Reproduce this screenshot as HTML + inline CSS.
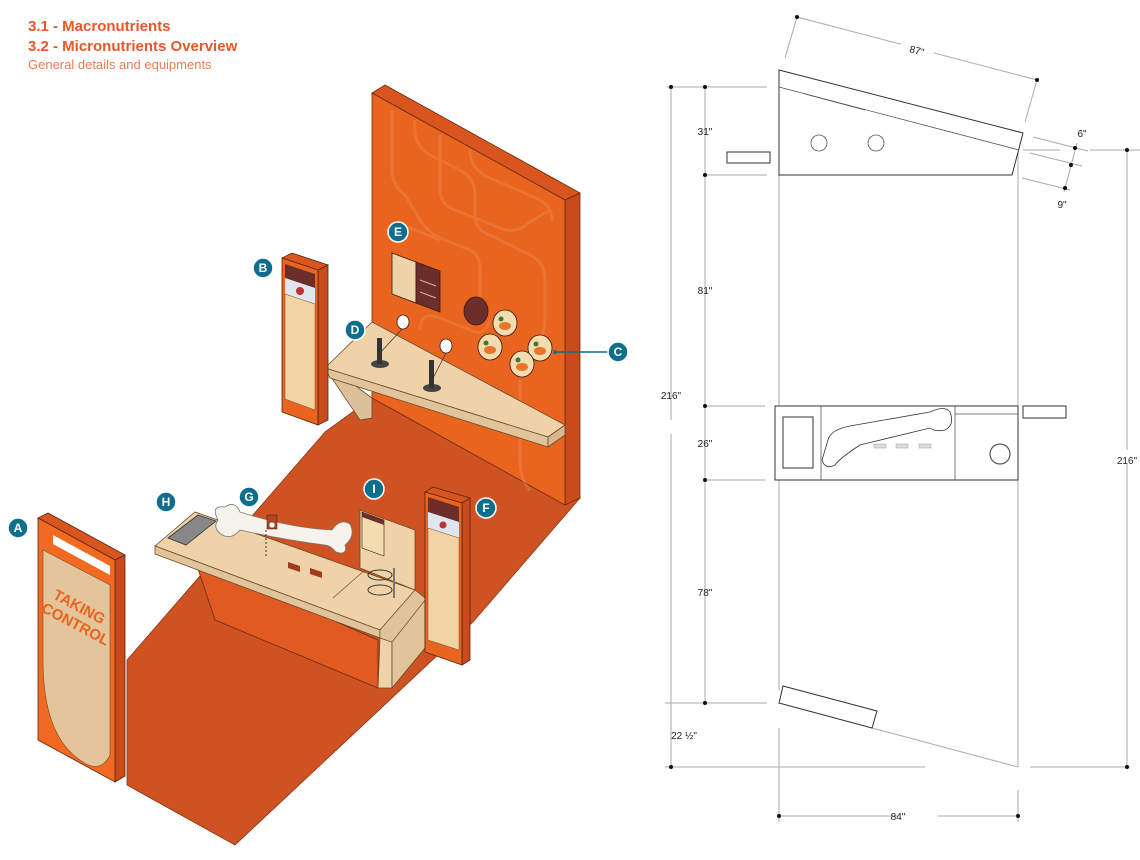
<!DOCTYPE html>
<html><head><meta charset="utf-8"><style>
html,body{margin:0;padding:0;background:#fff;}
svg{display:block;}
text{font-family:"Liberation Sans",sans-serif;}
</style></head><body>
<svg width="1140" height="860" viewBox="0 0 1140 860" xmlns="http://www.w3.org/2000/svg">
<text x="28" y="31" font-size="15" font-weight="bold" fill="#e8562a">3.1 - Macronutrients</text>
<text x="28" y="51" font-size="15" font-weight="bold" fill="#e8562a">3.2 - Micronutrients Overview</text>
<text x="28" y="69" font-size="13" fill="#ee7a55">General details and equipments</text>

<polygon points="325,432 372,398 580,498 473,622 235,845 127,785 127,660" fill="#cf5222" stroke="#8a3515" stroke-width="0.8"/>

<polygon points="385,85 580,193 565,200 372,93" fill="#d9551f" stroke="#6b2a10" stroke-width="0.8"/>
<polygon points="565,200 580,193 580,498 565,505" fill="#c94a1a" stroke="#6b2a10" stroke-width="0.8"/>
<polygon points="372,93 565,200 565,505 372,398" fill="#e8641f" stroke="#6b2a10" stroke-width="0.8"/>
<g fill="none" stroke="#f08a55" stroke-width="3" opacity="0.4">
<path d="M392,110 V170 Q392,185 405,195 L420,220 Q430,235 445,240 L470,250 Q480,255 480,270 V300"/>
<path d="M415,120 Q412,145 430,155 L460,170 Q475,178 475,195 V215 Q475,230 490,235 L530,255 Q545,262 545,280 V320 Q545,340 530,345"/>
<path d="M440,135 V190 Q440,205 455,210 L500,228 Q515,235 530,222 L550,210"/>
<path d="M470,150 Q470,170 490,178 L540,200 Q552,206 552,222"/>
<path d="M395,240 Q392,225 410,228 L440,240"/>
<path d="M420,330 Q420,310 440,318 L470,330 Q485,338 490,320"/>
<path d="M520,380 V460 Q520,480 530,490"/>
<path d="M445,400 Q450,380 470,390 L500,405"/>
</g>
<polygon points="392,253 416,262 416,303 392,294" fill="#efd2a8" stroke="#3a1a10" stroke-width="0.8"/>
<polygon points="416,262 440,271 440,312 416,303" fill="#6b2e2a" stroke="#3a1a10" stroke-width="0.8"/>
<line x1="420" y1="280" x2="436" y2="286" stroke="#d9b0a0" stroke-width="1"/>
<line x1="420" y1="292" x2="436" y2="298" stroke="#d9b0a0" stroke-width="1"/>
<ellipse cx="476" cy="311" rx="12" ry="14" fill="#6b2e2a" stroke="#3a1a10" stroke-width="0.8"/>
<g stroke="#3a1a10" stroke-width="0.8">
<ellipse cx="505" cy="323" rx="12" ry="13" fill="#f3ddb0"/>
<ellipse cx="490" cy="347" rx="12" ry="13" fill="#f3ddb0"/>
<ellipse cx="540" cy="348" rx="12" ry="13" fill="#f3ddb0"/>
<ellipse cx="522" cy="364" rx="12" ry="13" fill="#f3ddb0"/>
</g>
<g fill="#e8762a"><ellipse cx="505" cy="326" rx="6" ry="4"/><ellipse cx="490" cy="350" rx="6" ry="4"/><ellipse cx="540" cy="351" rx="6" ry="4"/><ellipse cx="522" cy="367" rx="6" ry="4"/></g>
<g fill="#3d7a2a"><circle cx="501" cy="319" r="2.5"/><circle cx="486" cy="343" r="2.5"/><circle cx="536" cy="344" r="2.5"/><circle cx="518" cy="360" r="2.5"/></g>
<ellipse cx="403" cy="322" rx="6" ry="7" fill="#fff" stroke="#3a1a10" stroke-width="0.8"/>
<ellipse cx="446" cy="346" rx="6" ry="7" fill="#fff" stroke="#3a1a10" stroke-width="0.8"/>

<polygon points="325,368 360,420 372,418 372,398 345,378" fill="#dcc09a" stroke="#6b4a2a" stroke-width="0.8"/>
<polygon points="325,368 372,322 565,425 548,437" fill="#efd2a8" stroke="#6b4a2a" stroke-width="0.8"/>
<polygon points="325,368 548,437 548,447 330,378" fill="#e2c49a" stroke="#6b4a2a" stroke-width="0.8"/>
<polygon points="548,437 565,425 565,435 548,447" fill="#d7b88e" stroke="#6b4a2a" stroke-width="0.8"/>
<g stroke="#3a3a3a" stroke-width="0.8"><line x1="380" y1="353" x2="402" y2="329"/><line x1="432" y1="380" x2="446" y2="353"/></g>
<ellipse cx="380" cy="364" rx="9" ry="4" fill="#444"/><rect x="377" y="338" width="5" height="26" fill="#333"/>
<ellipse cx="432" cy="388" rx="9" ry="4" fill="#444"/><rect x="429" y="360" width="5" height="28" fill="#333"/>

<polygon points="282,258 318,270 328,265 292,253" fill="#d9551f" stroke="#5a2510" stroke-width="0.8"/>
<polygon points="318,270 328,265 328,420 318,425" fill="#c94a1a" stroke="#5a2510" stroke-width="0.8"/>
<polygon points="282,258 318,270 318,425 282,412" fill="#e8641f" stroke="#5a2510" stroke-width="0.8"/>
<polygon points="285,264 315,274 315,288 285,278" fill="#6b2e2a"/>
<polygon points="285,278 315,288 315,304 285,294" fill="#dfe6f0"/>
<circle cx="300" cy="291" r="4" fill="#b33"/>
<polygon points="285,294 315,304 315,410 285,399" fill="#f1d3a6" stroke="#7a4a2a" stroke-width="0.5"/>

<polygon points="195,560 215,620 378,688 378,640" fill="#e05a22" stroke="#6b2a10" stroke-width="0.8"/>
<polygon points="155,546 195,512 415,590 380,630" fill="#efd2a8" stroke="#6b4a2a" stroke-width="0.8"/>
<polygon points="155,546 380,630 380,638 155,554" fill="#e2c49a" stroke="#6b4a2a" stroke-width="0.8"/>
<polygon points="380,638 392,642 392,688 378,688" fill="#efd2a8" stroke="#6b4a2a" stroke-width="0.8"/>
<polygon points="392,642 425,600 425,648 392,688" fill="#e2c49a" stroke="#6b4a2a" stroke-width="0.8"/>
<polygon points="380,630 415,590 425,598 425,600 392,642 380,638" fill="#e2c49a" stroke="#6b4a2a" stroke-width="0.6"/>
<polygon points="360,510 415,530 415,590 360,568" fill="#efd2a8" stroke="#6b4a2a" stroke-width="0.8"/>
<line x1="333" y1="598" x2="365" y2="570" stroke="#6b4a2a" stroke-width="0.6"/>
<polygon points="362,512 384,520 384,556 362,548" fill="#f3ddb0" stroke="#3a1a10" stroke-width="0.6"/>
<polygon points="362,512 384,520 384,525 362,517" fill="#6b2e2a"/>
<ellipse cx="380" cy="575" rx="12" ry="5" fill="none" stroke="#333" stroke-width="1"/>
<ellipse cx="380" cy="590" rx="12" ry="5" fill="none" stroke="#333" stroke-width="1"/>
<line x1="394" y1="568" x2="394" y2="598" stroke="#777" stroke-width="2"/>
<polygon points="168,538 198,515 216,521 186,545" fill="#888" stroke="#333" stroke-width="0.8"/>
<path d="M218,520 Q210,505 225,507 Q235,500 240,512 Q290,528 332,530 Q340,518 350,524 Q356,536 345,545 Q348,556 336,552 Q330,545 325,545 Q285,540 240,530 Q232,540 222,535 Q212,528 218,520 Z" fill="#f5f3ea" stroke="#777" stroke-width="0.8"/>
<rect x="267" y="515" width="10" height="14" fill="#b3451f" stroke="#3a1a10" stroke-width="0.5"/>
<circle cx="272" cy="525" r="3" fill="#fff" stroke="#333" stroke-width="0.5"/>
<line x1="266" y1="530" x2="266" y2="556" stroke="#333" stroke-width="1" stroke-dasharray="2,2"/>
<polygon points="288,562 300,566 300,572 288,568" fill="#a33a1a"/>
<polygon points="310,568 322,572 322,578 310,574" fill="#a33a1a"/>

<polygon points="425,492 462,503 470,498 433,487" fill="#d9551f" stroke="#5a2510" stroke-width="0.8"/>
<polygon points="462,503 470,498 470,660 462,665" fill="#c94a1a" stroke="#5a2510" stroke-width="0.8"/>
<polygon points="425,492 462,503 462,665 425,652" fill="#e8641f" stroke="#5a2510" stroke-width="0.8"/>
<polygon points="428,497 459,507 459,522 428,512" fill="#6b2e2a"/>
<polygon points="428,512 459,522 459,538 428,528" fill="#dfe6f0"/>
<circle cx="443" cy="525" r="3.5" fill="#b33"/>
<polygon points="428,528 459,538 459,650 428,640" fill="#f1d3a6" stroke="#7a4a2a" stroke-width="0.5"/>

<polygon points="38,518 115,560 125,555 48,513" fill="#d9551f" stroke="#5a2510" stroke-width="0.8"/>
<polygon points="115,560 125,555 125,776 115,782" fill="#c94a1a" stroke="#5a2510" stroke-width="0.8"/>
<polygon points="38,518 115,560 115,782 38,740" fill="#f06a22" stroke="#5a2510" stroke-width="0.8"/>
<polygon points="53,535 110,566 110,575 53,544" fill="#fff"/>
<path d="M43,550 L110,585 L110,755 Q100,775 80,760 Q43,735 43,660 Z" fill="#e4c49a" stroke="#7a4a2a" stroke-width="0.6"/>
<g transform="translate(52,598) rotate(28)" fill="#e8641f" font-weight="bold" font-size="15"><text x="0" y="0">TAKING</text><text x="-4" y="17">CONTROL</text></g>

<line x1="555" y1="352" x2="608" y2="352" stroke="#0e6f8c" stroke-width="1.5"/>
<circle cx="555" cy="352" r="2" fill="#0e6f8c"/>
<g fill="#0e6f8c" stroke="#fff" stroke-width="1.5">
<circle cx="18" cy="528" r="10"/><circle cx="263" cy="268" r="10"/><circle cx="618" cy="352" r="10"/>
<circle cx="355" cy="330" r="10"/><circle cx="398" cy="232" r="10"/><circle cx="486" cy="508" r="10"/>
<circle cx="249" cy="497" r="10"/><circle cx="166" cy="502" r="10"/><circle cx="374" cy="489" r="10"/>
</g>
<g fill="#fff" font-size="12" font-weight="bold" text-anchor="middle">
<text x="18" y="532">A</text><text x="263" y="272">B</text><text x="618" y="356">C</text>
<text x="355" y="334">D</text><text x="398" y="236">E</text><text x="486" y="512">F</text>
<text x="249" y="501">G</text><text x="166" y="506">H</text><text x="374" y="493">I</text>
</g>

<g stroke="#aaa" stroke-width="1" fill="none">
<line x1="671" y1="87" x2="671" y2="767"/>
<line x1="705" y1="87" x2="705" y2="703"/>
<line x1="667" y1="87" x2="767" y2="87"/>
<line x1="703" y1="175" x2="767" y2="175"/>
<line x1="703" y1="406" x2="765" y2="406"/>
<line x1="703" y1="480" x2="765" y2="480"/>
<line x1="665" y1="703" x2="767" y2="703"/>
<line x1="665" y1="767" x2="925" y2="767"/>
<line x1="1030" y1="767" x2="1130" y2="767"/>
<line x1="1127" y1="150" x2="1127" y2="767"/>
<line x1="1090" y1="150" x2="1140" y2="150"/>
<line x1="1023" y1="150" x2="1060" y2="150"/>
<line x1="779" y1="175" x2="779" y2="406"/>
<line x1="1018" y1="152" x2="1018" y2="406"/>
<line x1="779" y1="480" x2="779" y2="690"/>
<line x1="1018" y1="480" x2="1018" y2="767"/>
<line x1="779" y1="728" x2="779" y2="822"/>
<line x1="1018" y1="790" x2="1018" y2="822"/>
<line x1="779" y1="816" x2="1018" y2="816"/>
<line x1="872" y1="728" x2="1018" y2="767"/>
<line x1="797" y1="17" x2="1037" y2="80"/>
<line x1="797" y1="17" x2="785" y2="58"/>
<line x1="1037" y1="80" x2="1025" y2="122"/>
<line x1="1033" y1="137" x2="1088" y2="151"/>
<line x1="1030" y1="153" x2="1082" y2="166"/>
<line x1="1022" y1="178" x2="1070" y2="190"/>
<line x1="1077" y1="143" x2="1064" y2="192"/>
<line x1="818" y1="96" x2="818" y2="136"/>
<line x1="876" y1="111" x2="876" y2="136"/>
</g>
<rect x="660" y="420" width="22" height="14" fill="#fff"/>
<rect x="1116" y="450" width="24" height="14" fill="#fff"/>
<rect x="898" y="810" width="40" height="12" fill="#fff"/>
<rect x="900" y="44" width="34" height="12" fill="#fff" transform="rotate(15 917 50)"/>
<g fill="#111">
<circle cx="671" cy="87" r="2"/><circle cx="671" cy="767" r="2"/>
<circle cx="705" cy="87" r="2"/><circle cx="705" cy="175" r="2"/><circle cx="705" cy="406" r="2"/><circle cx="705" cy="480" r="2"/><circle cx="705" cy="703" r="2"/>
<circle cx="1127" cy="150" r="2"/><circle cx="1127" cy="767" r="2"/>
<circle cx="779" cy="816" r="2"/><circle cx="1018" cy="816" r="2"/>
<circle cx="797" cy="17" r="2"/><circle cx="1037" cy="80" r="2"/>
<circle cx="1075" cy="148" r="2"/><circle cx="1071" cy="165" r="2"/><circle cx="1065" cy="188" r="2"/>
</g>
<g stroke="#333" stroke-width="1" fill="#fff">
<polygon points="779,70 1023,133 1012,175 779,175"/>
<rect x="727" y="152" width="43" height="11"/>
<rect x="1023" y="406" width="43" height="12"/>
<rect x="775" y="406" width="243" height="74"/>
<rect x="783" y="417" width="30" height="51" fill="none"/>
<polygon points="783,686 877,711 872,728 779,703"/>
</g>
<g stroke="#555" stroke-width="0.8" fill="none">
<line x1="779" y1="87" x2="1019" y2="150"/>
<line x1="821" y1="406" x2="821" y2="480"/>
<line x1="955" y1="406" x2="955" y2="480"/>
<line x1="955" y1="414" x2="1018" y2="414"/>
<line x1="805" y1="94" x2="865" y2="110"/>
<circle cx="819" cy="143" r="8"/><circle cx="876" cy="143" r="8"/>
<circle cx="1000" cy="454" r="10" stroke-width="1.2"/>
<path d="M828,440 Q830,430 850,426 L930,412 Q945,405 950,412 Q955,425 945,430 Q935,432 930,428 L860,445 Q840,458 835,465 Q825,470 822,460 Z" stroke="#333"/>
</g>
<g fill="#ddd" stroke="#999" stroke-width="0.5"><rect x="874" y="444" width="12" height="4"/><rect x="896" y="444" width="12" height="4"/><rect x="919" y="444" width="12" height="4"/></g>
<g fill="#222" font-size="10" text-anchor="middle">
<text x="917" y="54" transform="rotate(15 917 50)">87"</text>
<text x="705" y="135">31"</text>
<text x="705" y="294">81"</text>
<text x="705" y="447">26"</text>
<text x="705" y="596">78"</text>
<text x="671" y="399">216"</text>
<text x="1127" y="464">216"</text>
<text x="684" y="739">22 ½"</text>
<text x="898" y="820">84"</text>
<text x="1082" y="137">6"</text>
<text x="1062" y="208">9"</text>
</g>
</svg>
</body></html>
